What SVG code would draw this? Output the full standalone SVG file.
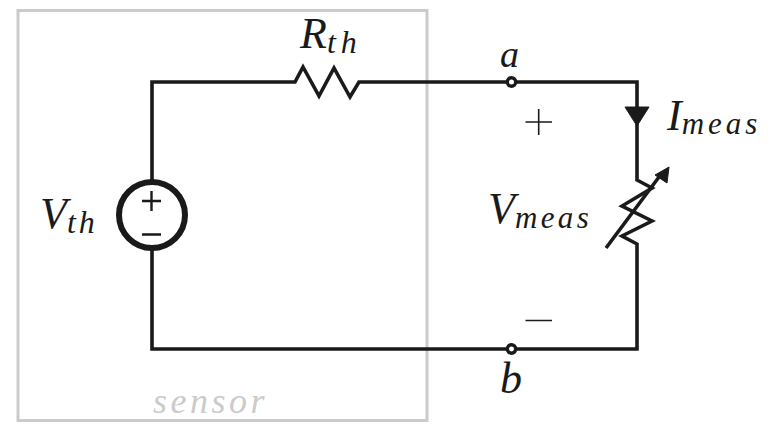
<svg xmlns="http://www.w3.org/2000/svg" width="784" height="440" viewBox="0 0 784 440">
<style>
.w{fill:none;stroke:#1a1a1a;stroke-width:3.6;stroke-linejoin:miter}
.t{font-family:"Liberation Serif",serif;font-style:italic;fill:#1a1a1a;font-size:44px}
.s{font-size:32px;letter-spacing:3px}
.m{font-size:31px;letter-spacing:3.400px}
.l{stroke:#1a1a1a;fill:none;stroke-width:1.6}
.term{fill:#fff;stroke:#1a1a1a;stroke-width:3.400}
</style>
<rect width="784" height="440" fill="#fff"/>
<g id="sensor">
<rect x="18" y="10.500" width="409" height="410" fill="none" stroke="#cbcbcb" stroke-width="3"/>
<text x="153" y="413" font-family="Liberation Serif,serif" font-style="italic" font-size="36" letter-spacing="3.500" fill="#cbcbcb">sensor</text>
</g>
<g id="connectors">
<path class="w" d="M152 182V82H295L303 67L319 96L334 68L350 97L359 82H637V180L652 188L622 206L652 221L622 236L637 244V349H152V248"/>
<path class="w" d="M606 248L659 177"/>
<path d="M669 167L667 183L655 175Z" fill="#1a1a1a" stroke="#1a1a1a" stroke-width="1"/>
<path d="M625 107H649L637 126Z" fill="#1a1a1a" stroke="#1a1a1a" stroke-width="1"/>
</g>
<g id="vth">
<circle cx="152" cy="215" r="33" fill="#fff" stroke="#1a1a1a" stroke-width="6"/>
<path class="l" d="M142 201H161M151.500 191V211M142 234.500H161" style="stroke-width:2.400"/>
<text class="t" x="40" y="228">V<tspan class="s" dy="5">th</tspan></text>
</g>
<g id="rth">
<text class="t" x="300" y="48">R<tspan class="s" dy="5" style="letter-spacing:5px">th</tspan></text>
</g>
<g id="a">
<circle class="term" cx="511.500" cy="82" r="4.200"/>
<text class="t" x="500" y="67" style="font-size:38px">a</text>
</g>
<g id="b">
<circle class="term" cx="511.500" cy="349" r="4.200"/>
<text class="t" x="500" y="393">b</text>
</g>
<g id="imeas">
<text class="t" x="667" y="130">I<tspan class="m" dy="4" style="letter-spacing:4px">meas</tspan></text>
</g>
<g id="vmeas">
<text class="t" x="488" y="223">V<tspan class="m" dy="5">meas</tspan></text>
<path class="l" d="M525.500 122H552M538.700 109V135M525.500 320.500H552"/>
</g>
</svg>
